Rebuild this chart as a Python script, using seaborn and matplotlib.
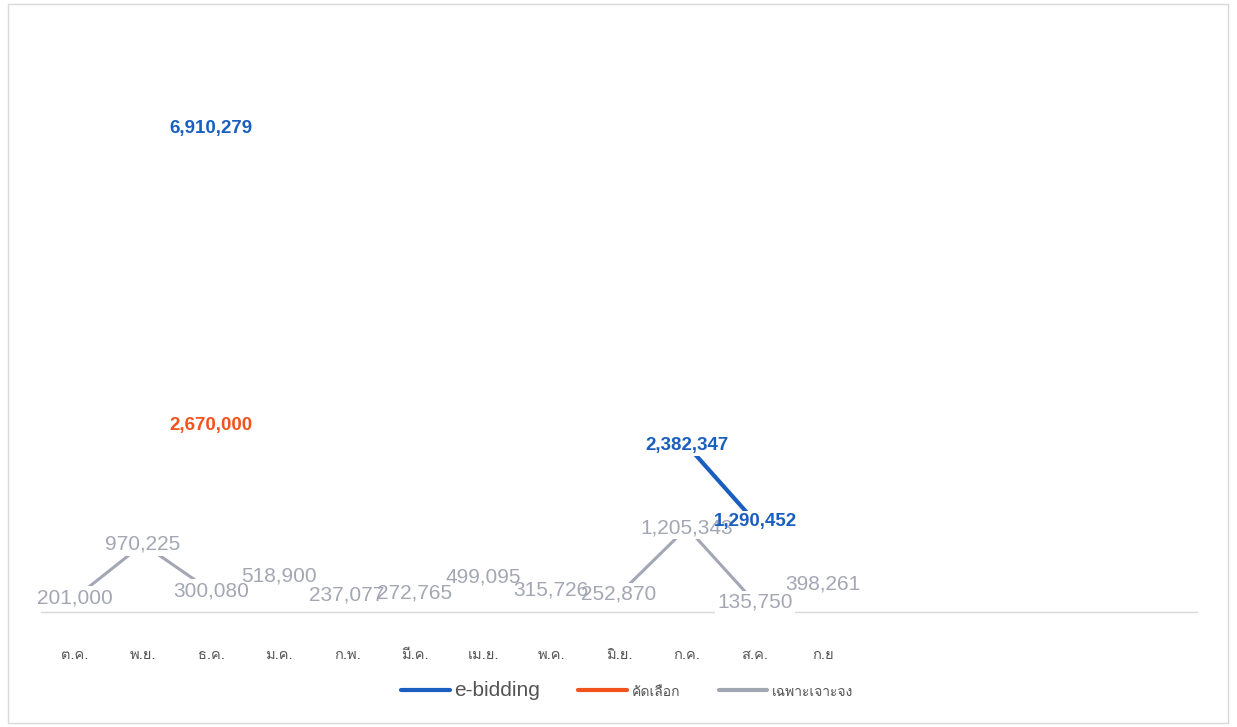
import numpy as np
import pandas as pd
import seaborn as sns
import matplotlib.pyplot as plt
from matplotlib import font_manager
from matplotlib.ft2font import FT2Font
from matplotlib.lines import Line2D
from matplotlib.patches import Rectangle

months = ['ต.ค.', 'พ.ย.', 'ธ.ค.', 'ม.ค.', 'ก.พ.', 'มี.ค.', 'เม.ย.', 'พ.ค.', 'มิ.ย.', 'ก.ค.', 'ส.ค.', 'ก.ย']
ebidding = [np.nan, np.nan, 6910279, np.nan, np.nan, np.nan, np.nan, np.nan, np.nan, 2382347, 1290452, np.nan]
selected = [np.nan, np.nan, 2670000, np.nan, np.nan, np.nan, np.nan, np.nan, np.nan, np.nan, np.nan, np.nan]
specific = [201000, 970225, 300080, 518900, 237077, 272765, 499095, 315726, 252870, 1205343, 135750, 398261]
names = ['e-bidding', 'คัดเลือก', 'เฉพาะเจาะจง']
colors = ['#1a5fbf', '#f0531c', '#a3a7b4']


# find an installed font that has Thai glyphs
def thai_font():
    for f in font_manager.fontManager.ttflist:
        try:
            if 0x0E01 in FT2Font(f.fname).get_charmap():
                return f.name
        except Exception:
            pass
    return 'DejaVu Sans'


sns.set_theme(style='white')
thai = thai_font()
plt.rcParams['font.family'] = ['Liberation Sans', thai, 'DejaVu Sans']

n_slots = 17  # the category axis keeps 5 empty slots on the right
df = pd.DataFrame({'x': np.arange(len(months)), 'e-bidding': ebidding,
                   'คัดเลือก': selected, 'เฉพาะเจาะจง': specific})

fig = plt.figure(figsize=(12.37, 7.27), dpi=100)
ax = fig.add_axes([41 / 1237, 1 - 612 / 727, 1156 / 1237, 560 / 727])
fig.patches.append(Rectangle((8 / 1237, 4 / 727), 1220 / 1237, 719 / 727, transform=fig.transFigure,
                             fill=False, edgecolor='#d8d8d8', lw=1))

widths = [3.0, 3.0, 2.2]
for name, c, w in zip(names, colors, widths):
    # blank months break the line, like gaps in the source chart
    seg = df[['x', name]].copy()
    seg['seg'] = seg[name].isna().cumsum()
    seg = seg.dropna()
    sns.lineplot(data=seg, x='x', y=name, units='seg', estimator=None, ax=ax,
                 color=c, lw=w, zorder=2)

for name, c in zip(names[::-1], colors[::-1]):
    bold = name != 'เฉพาะเจาะจง'
    size = 13.5 if bold else 15
    for xi, v in zip(df['x'], df[name]):
        if np.isnan(v):
            continue
        lab = f'{int(v):,}'
        ax.text(xi, v, lab, ha='center', va='center', fontsize=size, color='white',
                fontweight='bold' if bold else 'normal', zorder=3,
                bbox=dict(boxstyle='square,pad=0.1', fc='white', ec='none'))
        ax.text(xi, v, lab, ha='center', va='center', fontsize=size, color=c,
                fontweight='bold' if bold else 'normal', zorder=5 if bold else 4)

ax.set_xlim(-0.5, n_slots - 0.5)
ax.set_ylim(0, 8000000)
ax.set_xticks(np.arange(len(months)))
ax.set_xticklabels(months, family=[thai, 'DejaVu Sans'], fontsize=10.5, color='#555555')
ax.tick_params(axis='x', length=0, pad=26)
ax.set_yticks([])
ax.set_xlabel('')
ax.set_ylabel('')
for s in ['top', 'right', 'left']:
    ax.spines[s].set_visible(False)
ax.spines['bottom'].set_color('#d9d9d9')
ax.spines['bottom'].set_linewidth(1)

handles = [Line2D([], [], color=c, lw=3) for c in colors]
leg = fig.legend(handles, names, loc='center', bbox_to_anchor=(0.507, 1 - 690 / 727), ncol=3,
                 frameon=False, handlelength=3.2, handletextpad=0.3, columnspacing=2.5,
                 prop={'family': ['Liberation Sans', thai]})
for t, fs in zip(leg.get_texts(), [15, 10, 10]):
    t.set_fontsize(fs)
    t.set_color('#555555')

fig.savefig('out.png', dpi=100)
